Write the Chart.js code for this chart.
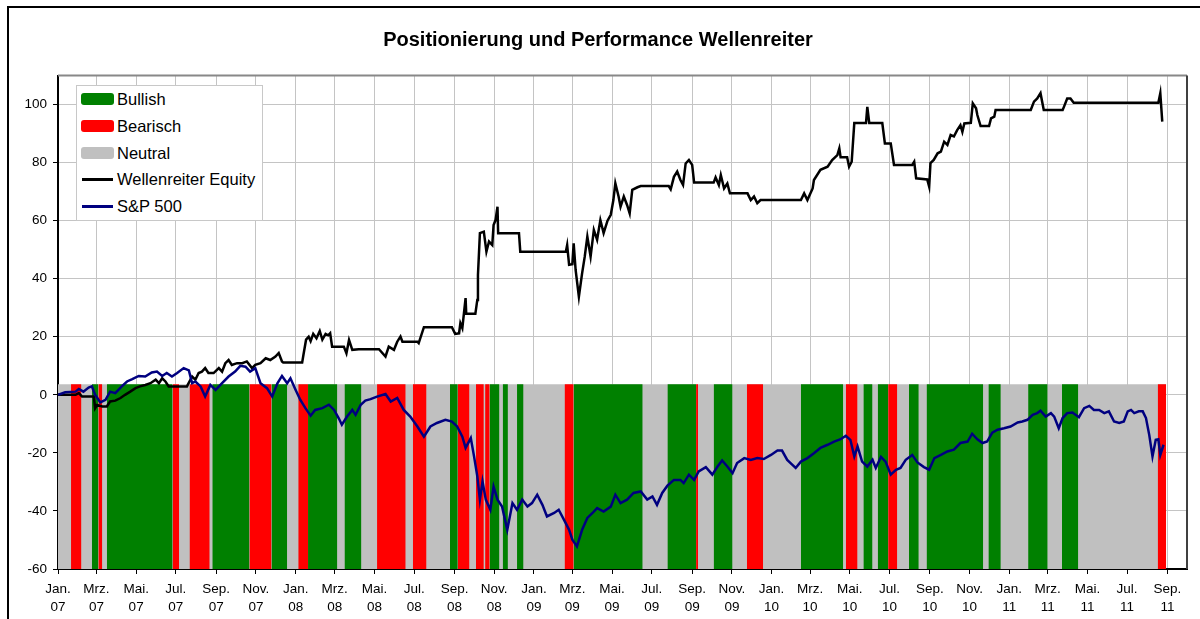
<!DOCTYPE html>
<html lang="de">
<head>
<meta charset="utf-8">
<title>Positionierung und Performance Wellenreiter</title>
<script src="https://cdn.jsdelivr.net/npm/chart.js@4.4.1/dist/chart.umd.min.js"></script>
<style>
  html, body { margin: 0; padding: 0; background: #fff; overflow: hidden; }
  #frame { position: absolute; left: 7px; top: 6px; width: 1260px; height: 700px; border: 2px solid #000; }
  #wrap { position: absolute; left: 9px; top: 8px; width: 1194px; height: 611px; }
  #legend { position: absolute; left: 76px; top: 85px; width: 185px; height: 134px; border: 1px solid #c8c8c8;
            background: #fff; font: 16.5px Arial, "Liberation Sans", sans-serif; color: #000; }
  .row { position: relative; height: 26.8px; line-height: 26.8px; padding-left: 40px; white-space: nowrap; }
  .sw { position: absolute; left: 4px; top: 7px; width: 33px; height: 12px; border-radius: 3px; }
  .ln { position: absolute; left: 5px; top: 12px; width: 31px; height: 3px; }
</style>
</head>
<body>
<div id="frame"></div>
<div id="wrap"><canvas id="chart" width="1194" height="611"></canvas></div>
<div id="legend">
  <div class="row"><span class="sw" style="background:#008000"></span>Bullish</div>
  <div class="row"><span class="sw" style="background:#ff0000"></span>Bearisch</div>
  <div class="row"><span class="sw" style="background:#c0c0c0"></span>Neutral</div>
  <div class="row"><span class="ln" style="background:#000"></span>Wellenreiter Equity</div>
  <div class="row"><span class="ln" style="background:#000080"></span>S&amp;P 500</div>
</div>
<script>
// x = Tage seit 1.1.2007
const Y_MIN = -60;
const Y_MAX = 110;
const X_MAX = 1734; // 1. Okt. 2011
const BAND_TOP = 3.6;

const tickLabels = [
  'Jan. 07', 'Mrz. 07', 'Mai. 07', 'Jul. 07', 'Sep. 07', 'Nov. 07',
  'Jan. 08', 'Mrz. 08', 'Mai. 08', 'Jul. 08', 'Sep. 08', 'Nov. 08',
  'Jan. 09', 'Mrz. 09', 'Mai. 09', 'Jul. 09', 'Sep. 09', 'Nov. 09',
  'Jan. 10', 'Mrz. 10', 'Mai. 10', 'Jul. 10', 'Sep. 10', 'Nov. 10',
  'Jan. 11', 'Mrz. 11', 'Mai. 11', 'Jul. 11', 'Sep. 11',
];
const monthIdx = { 'Jan.': 0, 'Mrz.': 2, 'Mai.': 4, 'Jul.': 6, 'Sep.': 8, 'Nov.': 10 };
const tickDays = tickLabels.map((l) => {
  const [m, yy] = l.split(' ');
  return (Date.UTC(2000 + Number(yy), monthIdx[m], 1) - Date.UTC(2007, 0, 1)) / 864e5;
});

// Positionierung (neutral = Rest)
const neutralRange = [0, 1702];
const bandStart = [20, 52, 62, 75, 176, 202, 237, 294, 328, 369, 384, 440, 490, 545, 602, 614, 642, 656, 663, 683,
  705, 778, 792, 936, 980, 1007, 1058, 1141, 1210, 1237, 1259, 1275, 1307, 1334, 1429, 1490, 1542, 1689];
const bandEnd = [36, 62, 68, 176, 186, 233, 294, 328, 352, 384, 429, 466, 534, 566, 614, 632, 654, 663, 678, 691,
  715, 792, 898, 980, 983, 1036, 1083, 1206, 1228, 1251, 1275, 1289, 1322, 1421, 1448, 1520, 1567, 1702];
const bandState = ['bear', 'bull', 'bear', 'bull', 'bear', 'bear', 'bull', 'bear', 'bull', 'bear',
  'bull', 'bull', 'bear', 'bear', 'bull', 'bear', 'bear', 'bear', 'bull', 'bull',
  'bull', 'bear', 'bull', 'bull', 'bear', 'bull', 'bear', 'bull', 'bear', 'bull',
  'bull', 'bear', 'bull', 'bull', 'bull', 'bull', 'bull', 'bear'];

const equityDays = [0, 27, 32, 37, 55, 57, 60, 68, 75, 80, 88, 96, 103, 111, 119, 126, 134, 142, 150, 155,
  160, 165, 170, 198, 206, 211, 216, 221, 226, 231, 239, 247, 252, 257, 262, 267, 275, 283, 290, 298,
  303, 311, 319, 326, 334, 339, 344, 346, 375, 377, 381, 385, 388, 392, 397, 402, 406, 411, 415, 418,
  421, 439, 443, 447, 452, 462, 493, 503, 508, 516, 521, 526, 529, 552, 554, 562, 605, 610, 616, 618,
  621, 626, 627, 641, 644, 645, 648, 654, 658, 662, 667, 669, 672, 675, 676, 708, 710, 780, 782, 785,
  790, 792, 795, 800, 805, 809, 813, 818, 823, 828, 833, 838, 844, 849, 853, 856, 861, 864, 869, 874,
  878, 882, 890, 895, 938, 941, 946, 951, 956, 960, 964, 969, 974, 977, 1007, 1010, 1015, 1018, 1023, 1028,
  1032, 1059, 1064, 1069, 1074, 1079, 1141, 1146, 1151, 1159, 1161, 1171, 1182, 1189, 1197, 1200, 1202, 1212, 1215, 1219,
  1223, 1241, 1243, 1246, 1266, 1270, 1279, 1284, 1312, 1315, 1318, 1335, 1338, 1340, 1345, 1351, 1356, 1361, 1366, 1371,
  1376, 1381, 1386, 1389, 1392, 1402, 1405, 1410, 1412, 1417, 1430, 1433, 1438, 1440, 1494, 1499, 1504, 1509, 1514, 1543,
  1545, 1550, 1555, 1560, 1690, 1693, 1696];
const equityValues = [0, 0, 0.6, -0.6, -0.6, -4.6, -3.5, -4.0, -4.0, -2.3, -2.0, -1.1, 0, 1.1, 2.3, 2.9, 3.4, 4.0, 5.2, 4.0,
  5.7, 4.6, 2.9, 2.9, 6.3, 5.2, 7.5, 8.0, 9.2, 7.5, 7.5, 9.2, 8.0, 10.9, 12.0, 10.3, 10.9, 10.9, 11.5, 9.2,
  10.3, 10.9, 12.6, 12.0, 13.2, 14.4, 11.5, 11.1, 11.1, 13.8, 19.0, 20.0, 18.5, 21.0, 19.5, 22.0, 19.0, 21.0, 20.5, 21.2,
  16.6, 16.6, 14.3, 18.9, 15.5, 15.7, 15.7, 13.2, 16.6, 15.5, 18.3, 20.1, 18.3, 18.3, 17.8, 23.3, 23.3, 21.0, 21.2, 24.7,
  23.0, 33.3, 27.9, 27.9, 32.7, 41.3, 55.7, 56.2, 49.3, 52.8, 51.6, 58.5, 60.2, 64.8, 55.7, 55.7, 49.3, 49.3, 51.6, 44.8,
  45.0, 52.2, 43.0, 33.8, 41.9, 47.6, 54.5, 47.6, 56.8, 53.4, 60.2, 55.7, 60.0, 62.0, 67.1, 72.9, 68.3, 64.8, 68.3, 65.4,
  62.5, 70.6, 71.5, 71.9, 71.9, 70.8, 75.1, 76.9, 74.0, 72.3, 79.7, 80.9, 79.2, 73.1, 73.1, 74.9, 72.3, 75.7, 71.1, 72.8,
  69.4, 69.4, 67.1, 68.3, 66.0, 67.1, 67.1, 69.4, 67.1, 71.1, 74.0, 77.5, 78.6, 80.9, 82.6, 84.9, 81.8, 81.8, 78.6, 80.3,
  93.6, 93.6, 99.2, 93.6, 93.6, 86.6, 86.6, 79.2, 79.2, 80.3, 74.6, 74.2, 71.7, 79.8, 80.9, 83.2, 83.8, 87.2, 86.1, 89.5,
  89.0, 91.2, 92.9, 90.6, 93.5, 93.7, 100.4, 98.7, 96.4, 92.6, 92.6, 95.2, 95.8, 98.1, 98.1, 101.0, 102.1, 103.9, 98.1, 98.1,
  99.2, 102.1, 102.1, 100.6, 100.6, 103.9, 94.1];

const spxDays = [0, 11, 27, 32, 39, 47, 52, 57, 65, 73, 80, 88, 98, 106, 114, 124, 134, 144, 152, 160,
  167, 175, 183, 193, 201, 206, 211, 219, 226, 234, 242, 252, 262, 272, 280, 288, 295, 303, 311, 321,
  329, 337, 344, 352, 357, 365, 372, 380, 388, 395, 406, 416, 424, 431, 436, 444, 452, 457, 465, 472,
  480, 490, 503, 511, 521, 531, 541, 552, 562, 572, 582, 595, 605, 613, 621, 626, 634, 639, 644, 648,
  652, 657, 664, 669, 675, 682, 690, 698, 705, 713, 721, 728, 736, 744, 751, 762, 769, 777, 785, 790,
  797, 805, 813, 821, 828, 838, 849, 856, 864, 874, 884, 895, 905, 913, 920, 928, 936, 946, 956, 961,
  969, 977, 984, 995, 1005, 1013, 1020, 1028, 1036, 1043, 1054, 1064, 1074, 1084, 1095, 1105, 1112, 1120, 1128, 1133,
  1141, 1151, 1161, 1171, 1182, 1192, 1202, 1210, 1217, 1223, 1228, 1235, 1243, 1251, 1256, 1264, 1271, 1279, 1287, 1294,
  1302, 1312, 1320, 1330, 1338, 1346, 1356, 1366, 1376, 1386, 1397, 1404, 1412, 1420, 1427, 1435, 1443, 1453, 1463, 1474,
  1481, 1489, 1497, 1504, 1509, 1517, 1525, 1530, 1537, 1543, 1550, 1558, 1568, 1576, 1584, 1591, 1599, 1607, 1614, 1622,
  1630, 1637, 1643, 1648, 1653, 1660, 1666, 1671, 1676, 1681, 1686, 1690, 1693, 1698];
const spxValues = [0, 0.9, 1.1, 2.0, 1.1, 2.5, 2.9, 0, -2.6, -1.7, 1.1, 0.6, 2.9, 4.6, 5.4, 6.5, 6.3, 7.7, 8.0, 6.5,
  7.5, 6.3, 7.5, 9.2, 8.4, 4.0, 4.6, 2.9, -0.6, 3.4, 1.7, 4.0, 6.3, 8.0, 10.0, 9.7, 8.0, 9.2, 4.0, 2.3,
  -0.6, 4.0, 6.5, 4.0, 5.7, 1.7, -1.7, -4.6, -7.2, -5.2, -4.6, -3.4, -5.2, -8.0, -10.3, -7.5, -5.2, -6.9, -3.4, -2.0,
  -1.5, -0.6, 0.3, -2.3, -1.1, -5.2, -7.5, -10.9, -14.4, -10.9, -9.7, -8.6, -9.2, -10.9, -14.4, -18.3, -14.9, -21.2, -28.1, -36.1,
  -29.8, -36.1, -39.6, -31.6, -36.1, -38.5, -46.5, -37.3, -39.6, -36.1, -38.5, -37.3, -34.4, -37.9, -41.9, -40.7, -39.6, -43.0, -46.5, -49.9,
  -52.2, -46.5, -42.4, -40.7, -39.0, -40.2, -38.5, -34.4, -37.3, -36.1, -33.8, -33.3, -36.1, -35.0, -37.9, -33.8, -31.3, -29.3, -29.3, -30.4,
  -27.5, -29.3, -26.4, -24.9, -27.5, -24.7, -22.6, -24.7, -27.0, -23.5, -21.8, -22.4, -21.8, -22.1, -20.7, -19.2, -19.2, -22.4, -24.1, -25.2,
  -23.0, -21.8, -20.1, -18.3, -17.2, -16.1, -15.3, -14.1, -15.5, -21.2, -17.8, -23.0, -24.7, -22.4, -25.2, -21.4, -23.0, -27.5, -25.8, -25.2,
  -22.4, -20.7, -23.3, -24.9, -25.8, -21.8, -20.7, -19.5, -18.9, -16.6, -16.1, -13.4, -15.3, -16.6, -16.1, -13.0, -12.0, -11.5, -10.9, -9.5,
  -9.2, -8.6, -6.9, -6.3, -5.5, -7.5, -6.3, -7.5, -11.5, -8.0, -6.3, -6.1, -7.7, -4.6, -3.8, -5.2, -5.2, -6.3, -5.7, -9.2,
  -9.7, -9.2, -5.7, -5.2, -6.3, -5.7, -5.7, -8.0, -13.8, -21.2, -15.5, -15.3, -20.7, -17.2];

function bandPoints(state) {
  const pts = [];
  bandState.forEach((s, i) => {
    if (s !== state) return;
    pts.push({ x: bandStart[i], y: BAND_TOP }, { x: bandEnd[i], y: BAND_TOP }, { x: bandEnd[i], y: null });
  });
  return pts;
}

function band(label, data, color, order) {
  return {
    label, data, order,
    backgroundColor: color,
    borderWidth: 0,
    pointRadius: 0,
    fill: { value: Y_MIN },
    spanGaps: false,
  };
}

const plotFrame = {
  id: 'plotFrame',
  afterDatasetsDraw(chart) {
    const { ctx, chartArea: a } = chart;
    ctx.save();
    ctx.lineWidth = 2;
    ctx.strokeStyle = '#888';
    ctx.beginPath(); ctx.moveTo(a.left, a.top); ctx.lineTo(a.right, a.top); ctx.stroke();
    ctx.strokeStyle = '#404040';
    ctx.beginPath(); ctx.moveTo(a.right, a.top); ctx.lineTo(a.right, a.bottom); ctx.stroke();
    ctx.restore();
  },
};

Chart.defaults.font.family = 'Arial, "Liberation Sans", sans-serif';
Chart.defaults.color = '#000';

const gridOpts = { color: '#c4c4c4', tickColor: '#000', tickLength: 5, lineWidth: 1 };
const borderOpts = { color: '#000', width: 2 };

new Chart(document.getElementById('chart'), {
  type: 'line',
  data: {
    datasets: [
      {
        label: 'S&P 500',
        data: spxDays.map((d, i) => ({ x: d, y: spxValues[i] })),
        borderColor: '#000080',
        borderWidth: 2.5,
        pointRadius: 0,
        fill: false,
        order: 0,
      },
      {
        label: 'Wellenreiter Equity',
        data: equityDays.map((d, i) => ({ x: d, y: equityValues[i] })),
        borderColor: '#000',
        borderWidth: 2.5,
        pointRadius: 0,
        fill: false,
        order: 1,
      },
      band('Bullish', bandPoints('bull'), '#008000', 2),
      band('Bearisch', bandPoints('bear'), '#ff0000', 3),
      band('Neutral', neutralRange.map((d) => ({ x: d, y: BAND_TOP })), '#c0c0c0', 4),
    ],
  },
  options: {
    responsive: false,
    animation: false,
    devicePixelRatio: 1,
    layout: { padding: { left: 0, right: 16, top: 0, bottom: 0 } },
    plugins: {
      legend: { display: false },
      tooltip: { enabled: false },
      title: {
        display: true,
        text: 'Positionierung und Performance Wellenreiter',
        font: { size: 20, weight: 'bold' },
        color: '#000',
        padding: { top: 20, bottom: 23.5 },
      },
    },
    scales: {
      x: {
        type: 'linear',
        min: 0,
        max: X_MAX,
        afterBuildTicks: (s) => { s.ticks = tickDays.map((v) => ({ value: v })); },
        afterFit: (s) => { s.height = 50; },
        grid: gridOpts,
        border: borderOpts,
        ticks: {
          autoSkip: false,
          maxRotation: 0,
          padding: 7,
          font: { size: 13.5, lineHeight: 1.3 },
          callback: (v, i) => tickLabels[i].split(' '),
        },
      },
      y: {
        min: Y_MIN,
        max: Y_MAX,
        afterFit: (s) => { s.width = 49; },
        grid: gridOpts,
        border: borderOpts,
        ticks: { stepSize: 20, includeBounds: false, padding: 6, font: { size: 13.5 } },
      },
    },
  },
  plugins: [plotFrame],
});
</script>
</body>
</html>
